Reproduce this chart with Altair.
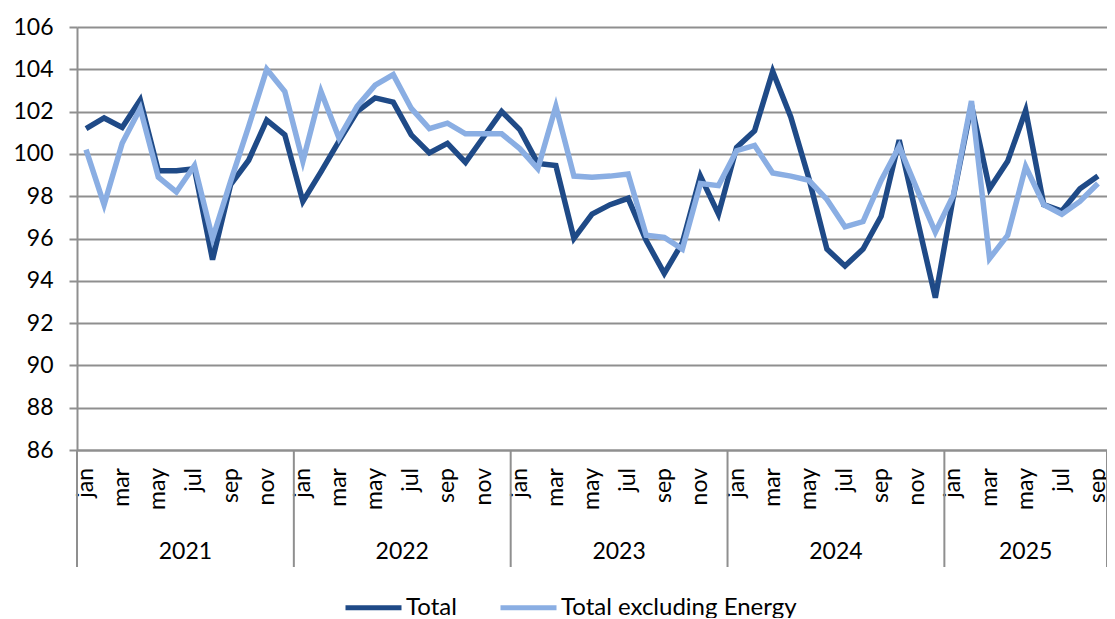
import altair as alt
import pandas as pd

months = ["jan", "feb", "mar", "apr", "may", "jun", "jul", "aug", "sep", "oct", "nov", "dec"]
years = [2021, 2022, 2023, 2024, 2025]
months_per_year = [12, 12, 12, 12, 9]
series_names = ["Total", "Total excluding Energy"]
colors = ["#1f4a87", "#8aaee3"]

total = [
    101.2, 101.7, 101.25, 102.55, 99.2, 99.2, 99.3, 95.0, 98.55, 99.7, 101.6, 100.9,
    97.75, 99.15, 100.6, 102.0, 102.65, 102.45, 100.9, 100.05, 100.5, 99.6, 100.8, 102.0,
    101.15, 99.55, 99.45, 96.0, 97.15, 97.6, 97.9, 95.9, 94.35, 95.8, 98.95, 97.15,
    100.3, 101.1, 103.9, 101.75, 98.85, 95.5, 94.7, 95.5, 97.05, 100.65, 96.9, 93.2,
    98.0, 102.3, 98.35, 99.65, 102.05, 97.6, 97.3, 98.35, 98.95,
]
total_ex_energy = [
    100.2, 97.6, 100.5, 102.15, 98.9, 98.2, 99.45, 96.0, 98.7, 101.3, 104.0, 102.95,
    99.65, 102.95, 100.75, 102.25, 103.25, 103.75, 102.15, 101.2, 101.45, 100.95, 100.95, 100.95,
    100.25, 99.3, 102.25, 98.95, 98.9, 98.95, 99.05, 96.15, 96.05, 95.5, 98.6, 98.5,
    100.15, 100.4, 99.1, 98.95, 98.75, 97.85, 96.55, 96.8, 98.75, 100.35, 98.3, 96.3,
    98.05, 102.5, 95.05, 96.15, 99.4, 97.6, 97.15, 97.75, 98.6,
]

# ---- build tables ----
rows = []
month_rows = []
idx = 0
for yr, n in zip(years, months_per_year):
    for m in range(n):
        rows.append({"idx": idx, "year": yr, "month": months[m],
                     "series": series_names[0], "value": total[idx]})
        rows.append({"idx": idx, "year": yr, "month": months[m],
                     "series": series_names[1], "value": total_ex_energy[idx]})
        if m % 2 == 0:
            month_rows.append({"idx": idx, "month": months[m]})
        idx += 1
n_total = idx
df = pd.DataFrame(rows)
month_df = pd.DataFrame(month_rows)

bounds = [-0.5]
centers = []
start = 0
for n in months_per_year:
    centers.append(start + (n - 1) / 2)
    start += n
    bounds.append(start - 0.5)
years_df = pd.DataFrame({"year": [str(y) for y in years], "center": centers})
bounds_df = pd.DataFrame({"b": bounds})

FONT = "Lato"
GRID = "#8f8f8f"
W, H = 1030, 423

xscale = alt.Scale(domain=[-0.5, n_total - 0.5], nice=False, zero=False)
yscale = alt.Scale(domain=[86, 106], nice=False, zero=False)

lines = alt.Chart(df).mark_line(strokeWidth=5.5).encode(
    x=alt.X("idx:Q", scale=xscale, title=None,
            axis=alt.Axis(labels=False, ticks=False, grid=False,
                          domainColor=GRID, domainWidth=2)),
    y=alt.Y("value:Q", scale=yscale, title=None,
            axis=alt.Axis(values=list(range(86, 107, 2)), labelFontSize=23,
                          labelFont=FONT, labelColor="#000000", labelPadding=16,
                          tickSize=8, tickColor=GRID, tickWidth=2,
                          grid=True, gridColor=GRID, gridWidth=2,
                          domainColor=GRID, domainWidth=2)),
    color=alt.Color("series:N", scale=alt.Scale(domain=series_names, range=colors),
                    legend=alt.Legend(orient="none", legendX=266, legendY=550,
                                      direction="horizontal", title=None,
                                      symbolType="stroke", symbolStrokeWidth=5,
                                      symbolSize=3136, labelFontSize=24,
                                      labelFont=FONT, labelColor="#000000",
                                      labelLimit=0,
                                      columnPadding=33, labelOffset=2, padding=0)),
)

month_text = alt.Chart(month_df).mark_text(fontSize=23, font=FONT, color="#000000",
                                           angle=270, align="right",
                                           baseline="middle").encode(
    x=alt.X("idx:Q", scale=xscale),
    y=alt.value(H + 18),
    text="month:N",
)

seps = alt.Chart(bounds_df).mark_rule(color=GRID, strokeWidth=2).encode(
    x=alt.X("b:Q", scale=xscale),
    y=alt.value(H),
    y2=alt.value(540),
)

year_text = alt.Chart(years_df).mark_text(fontSize=23, font=FONT, color="#000000",
                                          baseline="middle", align="center").encode(
    x=alt.X("center:Q", scale=xscale),
    y=alt.value(525),
    text="year:N",
)

chart = alt.layer(lines, month_text, seps, year_text).properties(
    width=W, height=H,
    autosize=alt.AutoSizeParams(type="none"),
    padding={"left": 69, "top": 19, "right": 0, "bottom": 168},
).configure_view(stroke=None).configure(background="white")

chart.save("out.html", embed_options={"renderer": "svg", "actions": False})
